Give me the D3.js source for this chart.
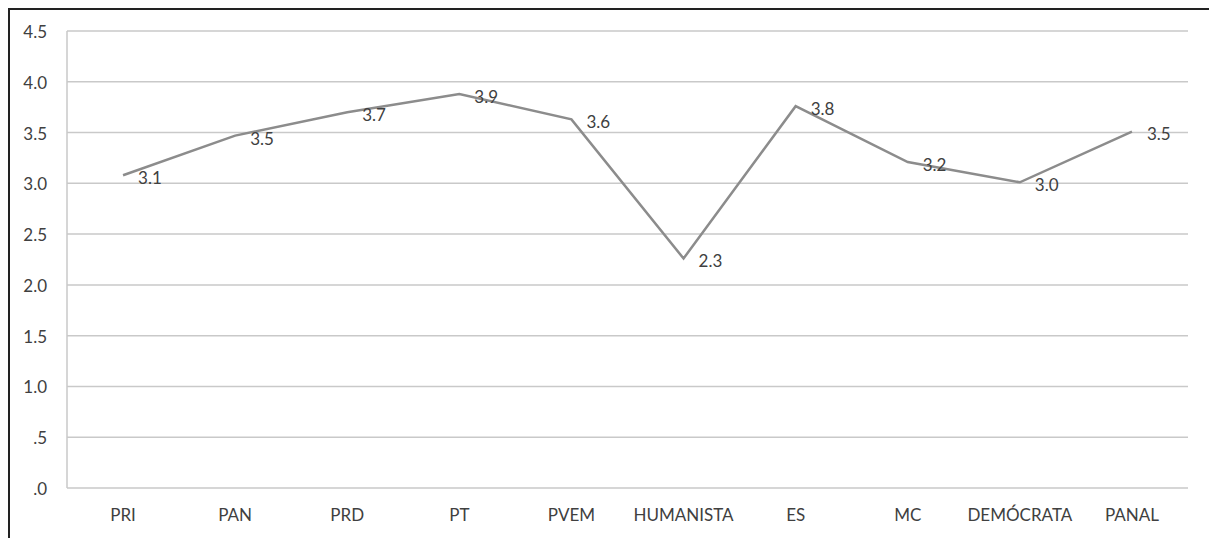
<!DOCTYPE html>
<html lang="es">
<head>
<meta charset="utf-8">
<title>Partidos</title>
<script src="https://d3js.org/d3.v7.min.js"></script>
<style>
  body { margin: 0; background: #fff; }
  text { font-family: Lato, "Open Sans", sans-serif; fill: #404040; }
</style>
</head>
<body>
<svg id="chart" width="1209" height="538"></svg>
<script>
// data
const parties = ["PRI", "PAN", "PRD", "PT", "PVEM", "HUMANISTA", "ES", "MC", "DEMÓCRATA", "PANAL"];
const scores = [3.08, 3.47, 3.70, 3.88, 3.63, 2.26, 3.76, 3.21, 3.01, 3.51];
const labels = ["3.1", "3.5", "3.7", "3.9", "3.6", "2.3", "3.8", "3.2", "3.0", "3.5"];
const yTicks = [0, 0.5, 1, 1.5, 2, 2.5, 3, 3.5, 4, 4.5];
const yTickLabels = [".0", ".5", "1.0", "1.5", "2.0", "2.5", "3.0", "3.5", "4.0", "4.5"];

const svg = d3.select("#chart");

// outer frame (top + left only are visible)
svg.append("path")
    .attr("d", "M9,538 V9 H1209")
    .attr("fill", "none")
    .attr("stroke", "#222")
    .attr("stroke-width", 2);

const x = d3.scaleBand().domain(parties).range([67, 1188]);
const y = d3.scaleLinear().domain([0, 4.5]).range([488, 31]);

// gridlines
svg.append("g").selectAll("line").data(yTicks)
    .join("line")
    .attr("x1", 67).attr("x2", 1188)
    .attr("y1", d => y(d)).attr("y2", d => y(d))
    .attr("stroke", "#c9c9c9")
    .attr("stroke-width", 1.5);

// vertical axis line
svg.append("line")
    .attr("x1", 67).attr("x2", 67)
    .attr("y1", y(4.5)).attr("y2", y(0))
    .attr("stroke", "#c9c9c9")
    .attr("stroke-width", 1.5);

// y tick labels
svg.append("g").selectAll("text").data(yTicks)
    .join("text")
    .attr("x", 47)
    .attr("y", d => y(d) + 1)
    .attr("dy", "0.35em")
    .attr("text-anchor", "end")
    .style("font-size", "17px")
    .text((d, i) => yTickLabels[i]);

// x labels
svg.append("g").selectAll("text").data(parties)
    .join("text")
    .attr("x", d => x(d) + x.bandwidth() / 2)
    .attr("y", 515)
    .attr("dy", "0.35em")
    .attr("text-anchor", "middle")
    .style("font-size", "17px")
    .text(d => d);

// line
const line = d3.line()
    .x((d, i) => x(parties[i]) + x.bandwidth() / 2)
    .y(d => y(d));

svg.append("path")
    .datum(scores)
    .attr("d", line)
    .attr("fill", "none")
    .attr("stroke", "#8c8c8c")
    .attr("stroke-width", 2.5);

// value labels
svg.append("g").selectAll("text").data(scores)
    .join("text")
    .attr("x", (d, i) => x(parties[i]) + x.bandwidth() / 2 + 15)
    .attr("y", d => y(d) + 3)
    .attr("dy", "0.35em")
    .style("font-size", "17px")
    .text((d, i) => labels[i]);
</script>
</body>
</html>
